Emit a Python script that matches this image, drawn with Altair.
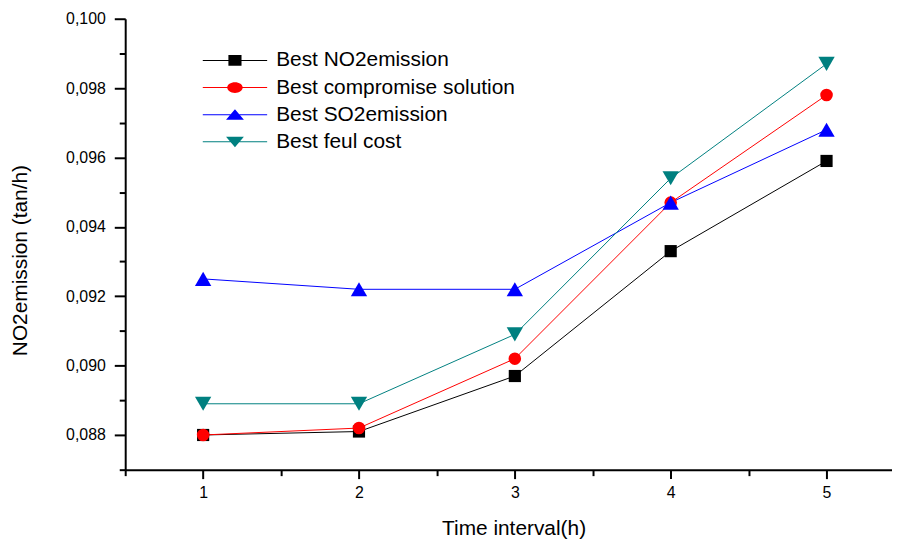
import altair as alt
import pandas as pd

# ---------------- data ----------------
intervals = [1, 2, 3, 4, 5]
series_names = ["Best NO2emission", "Best compromise solution", "Best SO2emission", "Best feul cost"]
no2_best = [0.0880, 0.0881, 0.0897, 0.0933, 0.0959]
compromise = [0.0880, 0.0882, 0.0902, 0.0947, 0.0978]
so2_best = [0.0925, 0.0922, 0.0922, 0.0947, 0.0968]
fuel_best = [0.0889, 0.0889, 0.0909, 0.0954, 0.0987]
x_ticks = [0.5, 1, 1.5, 2, 2.5, 3, 3.5, 4, 4.5, 5]
y_ticks = [0.087, 0.088, 0.089, 0.090, 0.091, 0.092, 0.093, 0.094,
           0.095, 0.096, 0.097, 0.098, 0.099, 0.100]

# ---------------- styles ----------------
series_colors = ["#000000", "#ff0000", "#0000ff", "#008080"]
marker_shapes = ["square", "circle", "triangle-up", "triangle-down"]
marker_sizes = [150, 160, 270, 270]
_line = "M-5.4,-0.09L5.4,-0.09L5.4,0.09L-5.4,0.09Z"
legend_paths = [
    _line + "M-1.1,-0.9L1.1,-0.9L1.1,0.9L-1.1,0.9Z",
    _line + "M-1.3,0A1.3,0.9 0 1,1 1.3,0A1.3,0.9 0 1,1 -1.3,0Z",
    _line + "M0,-0.9L1.5,0.85L-1.5,0.85Z",
    _line + "M-1.5,-0.85L1.5,-0.85L0,0.9Z",
]
FONT = "Liberation Sans"

rows = []
for name, vals in zip(series_names, [no2_best, compromise, so2_best, fuel_best]):
    for t, v in zip(intervals, vals):
        rows.append({"interval": t, "value": v, "series": name})
df = pd.DataFrame(rows)

x_enc = alt.X(
    "interval:Q",
    scale=alt.Scale(domain=[0.5, 5.42], nice=False, zero=False),
    axis=alt.Axis(
        title="Time interval(h)",
        values=x_ticks,
        labelExpr="datum.value % 1 === 0 ? format(datum.value, 'd') : ''",
        tickSize={"condition": {"test": "datum.value % 1 === 0", "value": 9}, "value": 6},
        labelPadding=6,
        labelFontSize=16,
        titleFontSize=21,
        titleFontWeight="normal",
        titleX=391,
        titleY=65,
        titleBaseline="alphabetic",
        titleAlign="center",
    ),
)
y_enc = alt.Y(
    "value:Q",
    scale=alt.Scale(domain=[0.087, 0.100], nice=False, zero=False),
    axis=alt.Axis(
        title="NO2emission (tan/h)",
        values=y_ticks,
        labelExpr="round(datum.value * 1000) % 2 === 0 ? replace(format(datum.value, '.3f'), '.', ',') : ''",
        tickSize={"condition": {"test": "round(datum.value * 1000) % 2 === 0", "value": 11}, "value": 6},
        labelPadding=9,
        labelFontSize=16,
        titleFontSize=21,
        titleFontWeight="normal",
        titleX=-99,
        titleY=243,
        titleAngle=270,
        titleBaseline="alphabetic",
        titleAlign="center",
    ),
)

layers = []
for name, col in zip(series_names, series_colors):
    layers.append(
        alt.Chart(df)
        .transform_filter(alt.datum.series == name)
        .mark_line(strokeWidth=1, color=col)
        .encode(x=x_enc, y=y_enc)
    )
for name, col, shp, sz in zip(series_names, series_colors, marker_shapes, marker_sizes):
    layers.append(
        alt.Chart(df)
        .transform_filter(alt.datum.series == name)
        .mark_point(filled=True, shape=shp, size=sz, opacity=1, strokeWidth=0, color=col)
        .encode(x=x_enc, y=y_enc)
    )

legend_props = dict(
    orient="none", legendX=100, legendY=31.5, title=None,
    labelFont=FONT, labelFontSize=21, labelColor="#000000", labelLimit=600,
    symbolSize=144, symbolStrokeWidth=0, symbolOpacity=1,
    labelOffset=31, rowPadding=5.3, padding=0,
)
legend_layer = (
    alt.Chart(df)
    .transform_filter("false")
    .mark_point(filled=True, opacity=1)
    .encode(
        x=x_enc, y=y_enc,
        color=alt.Color("series:N", scale=alt.Scale(domain=series_names, range=series_colors),
                        legend=alt.Legend(**legend_props)),
        shape=alt.Shape("series:N", scale=alt.Scale(domain=series_names, range=legend_paths),
                        legend=alt.Legend(**legend_props)),
    )
)
layers.append(legend_layer)

chart = (
    alt.layer(*layers)
    .properties(
        width=772, height=454,
        autosize=alt.AutoSizeParams(type="none"),
        padding={"left": 118, "top": 9, "right": 0, "bottom": 70},
    )
    .configure(font=FONT, background="white")
    .configure_view(stroke=None)
    .configure_axis(
        grid=False, domainColor="#000000", domainWidth=2, tickColor="#000000",
        tickWidth=2, labelColor="#000000", titleColor="#000000",
        labelFont=FONT, titleFont=FONT,
    )
)

chart.save("out.html", embed_options={"renderer": "svg", "actions": False})
